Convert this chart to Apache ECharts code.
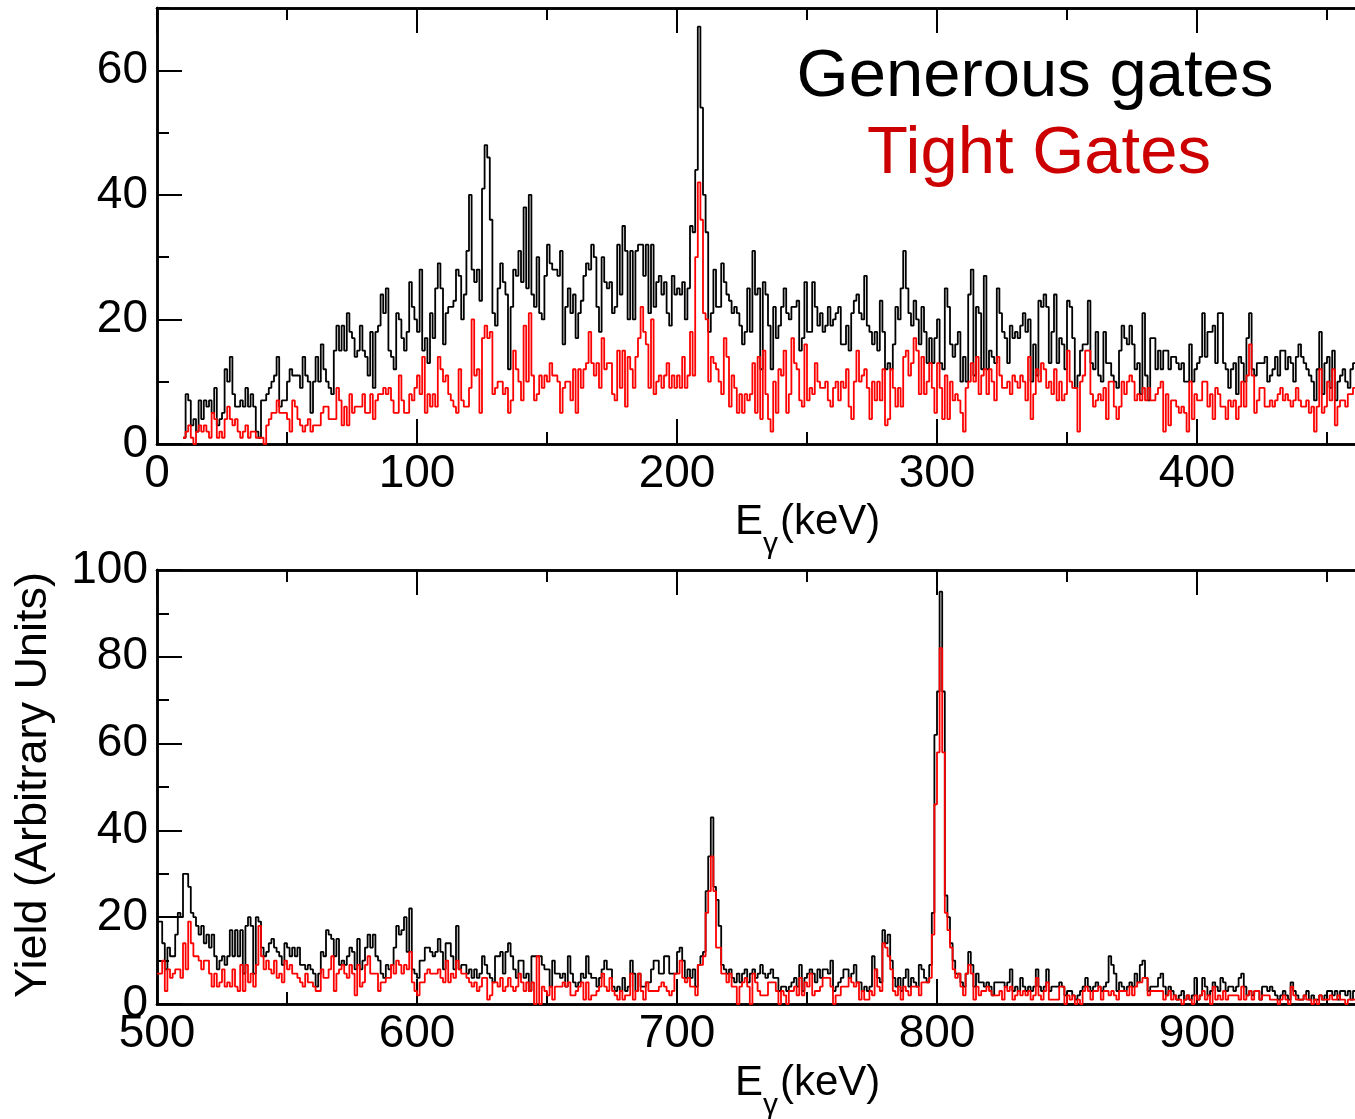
<!DOCTYPE html>
<html><head><meta charset="utf-8">
<script src="https://cdn.jsdelivr.net/npm/echarts@6/dist/echarts.min.js"></script>
<style>html,body{margin:0;padding:0;background:#fff}#c{width:1355px;height:1119px}</style>
</head><body><div id="c"></div>
<script>
// ---- data (1 keV bins, values = counts per bin) ----
const topStart = 10;     // keV of first bin, upper panel
const topGenerous = [
1,8,7,3,4,2,7,4,7,6,7,5,9,3,4,5,12,10,14,8,6,6,7,6,9,6,8,6,2,1,7,7,8,9,10,11,14,6,7,7,10,12,11,11,11,9,14,11,10,5,10,14,10,16,12,10,9,8,15,19,15,19,15,21,18,17,14,
15,19,15,14,11,18,9,18,19,24,21,25,15,14,12,21,20,17,15,18,26,22,20,18,28,15,17,13,21,17,25,29,25,16,21,22,22,23,28,27,20,24,31,40,28,26,28,23,41,48,46,36,21,19,25,29,26,24,12,22,28,27,31,26,38,25,40,24,22,30,21,20,27,32,29,28,
28,27,31,16,22,25,21,24,17,21,23,27,29,28,32,30,22,18,30,26,25,26,21,22,32,24,35,31,20,31,20,31,32,32,27,32,21,32,22,26,27,24,26,21,19,27,24,25,24,26,20,25,35,34,44,67,54,40,34,18,21,28,22,22,29,26,24,23,21,22,21,19,16,18,25,18,31,
24,25,12,26,24,19,12,22,17,19,22,25,21,20,22,22,23,15,17,26,18,18,26,22,19,21,18,19,22,19,20,21,22,16,16,19,15,21,23,24,21,20,27,19,18,16,18,15,23,18,12,13,12,16,22,20,25,31,25,21,19,23,20,16,22,18,13,17,13,17,20,13,12,25,22,16,
14,16,18,10,14,10,24,28,11,22,21,12,27,12,15,14,13,25,21,18,17,13,19,17,18,17,19,21,18,20,10,16,11,23,22,24,22,13,18,24,13,17,16,12,23,22,17,9,11,15,16,16,23,13,12,18,11,10,18,13,13,11,10,9,15,19,17,16,19,16,12,13,8,21,11,7,17,
17,12,15,12,15,15,12,14,14,13,12,13,10,10,16,10,12,13,14,21,14,18,18,19,13,21,21,13,12,9,12,13,8,14,13,10,17,21,12,11,13,13,13,14,10,11,12,14,11,15,15,12,14,13,10,14,16,14,13,12,11,10,7,12,18,8,13,14,9,15,7,10,11,12,10,9,12,13
];
const topTight = [
1,2,3,1,0,2,3,2,3,2,1,5,4,1,2,1,4,6,4,3,4,2,1,2,3,1,2,2,1,1,1,0,3,4,5,5,7,5,5,5,4,2,7,6,4,3,2,3,4,2,3,3,3,5,6,6,4,4,4,9,7,3,6,3,8,5,6,
6,6,8,5,5,8,4,7,8,8,9,8,9,7,5,5,11,7,5,5,8,7,9,11,8,14,5,8,6,8,6,14,12,10,11,8,7,6,5,12,7,6,6,9,20,11,12,5,17,19,17,18,8,9,10,10,8,9,5,7,15,12,10,7,19,10,21,11,7,8,11,9,11,10,13,11,
11,10,5,9,10,10,7,12,5,12,9,12,13,18,13,11,13,9,17,12,13,13,8,7,15,9,15,6,14,12,9,14,17,22,18,16,9,20,8,10,11,9,11,13,9,11,9,11,9,14,9,11,18,11,30,42,36,21,20,10,14,13,12,10,8,17,14,6,11,9,5,8,5,8,7,8,13,
5,14,4,15,8,4,2,10,5,12,11,15,5,8,17,13,12,7,6,16,7,9,8,13,10,9,9,10,7,6,9,10,7,10,9,12,6,4,10,15,10,11,12,9,4,10,7,10,7,12,3,4,12,9,6,9,6,14,15,11,13,17,15,8,14,8,10,13,9,5,13,9,4,11,4,10,
7,8,7,5,2,9,10,13,10,14,8,11,12,8,12,10,7,14,11,9,9,10,8,11,10,9,11,10,7,14,4,8,12,10,13,12,9,10,8,12,7,10,7,8,15,10,9,9,2,10,11,15,15,8,6,7,8,7,9,4,10,10,6,4,6,10,8,10,11,10,7,8,7,9,7,9,7,
7,8,9,10,2,8,3,7,7,6,5,6,5,2,10,4,8,7,7,10,10,6,8,4,9,8,6,6,4,7,6,7,4,6,10,6,11,16,11,5,7,9,9,6,6,7,6,7,8,9,7,8,7,6,7,9,7,6,6,7,5,6,2,6,12,5,6,10,7,12,3,6,7,7,6,8,8,9
];
const botStart = 500;    // keV of first bin, lower panel
const botGenerous = [
19,19,14,8,13,11,11,16,21,20,30,30,27,21,20,18,16,18,14,16,13,16,11,8,10,11,9,11,17,11,17,11,17,7,18,20,18,7,20,19,13,11,12,14,15,13,12,11,9,14,13,11,13,11,13,9,9,8,9,8,7,4,7,12,11,17,16,15,11,15,9,10,9,11,13,12,
8,15,8,10,13,16,13,16,11,10,7,6,9,8,9,13,18,16,17,20,12,22,8,7,6,10,10,13,13,12,11,12,15,12,8,14,14,11,8,18,8,9,9,7,8,6,8,6,7,11,9,7,6,5,11,11,12,7,12,14,11,8,6,10,10,6,7,3,11,11,11,11,9,8,8,4,10,
7,7,6,7,4,11,7,5,4,5,7,6,11,7,6,6,4,6,8,10,8,8,4,3,4,3,6,3,4,10,7,3,7,4,4,5,5,8,10,10,7,7,11,11,7,7,7,12,13,10,6,8,6,8,4,9,11,12,26,34,43,27,24,18,9,8,7,8,6,5,7,5,7,8,5,7,
8,6,7,9,7,6,7,8,6,6,3,4,4,3,4,5,6,4,9,3,6,7,8,7,5,8,6,8,8,7,10,3,4,5,6,8,8,6,7,9,5,5,3,4,3,4,11,8,6,5,17,14,16,10,6,4,6,3,6,8,4,6,5,4,9,8,6,5,9,21,62,72,95,72,25,20,14,10,
7,7,5,4,7,12,9,4,7,5,5,4,5,4,2,5,5,5,5,4,5,8,3,4,3,6,4,3,4,3,4,8,4,3,4,8,3,4,4,4,5,4,2,3,3,2,1,2,3,4,6,4,3,4,5,4,3,4,5,11,9,7,3,5,4,3,4,5,4,7,5,9,10,6,3,4,
4,4,6,7,4,2,4,3,2,1,2,3,1,2,1,2,6,1,2,6,4,2,3,5,4,3,6,5,3,4,4,3,4,6,7,4,2,3,2,3,3,1,4,4,3,4,3,2,1,2,3,2,1,5,3,2,1,1,2,3,1,2,1,1,2,1,2,3,3,2,3,1,3,3,2,3,1,3
];
const botTight = [
7,7,10,3,8,6,7,8,8,6,14,8,19,14,11,11,10,8,10,10,7,4,7,4,5,8,4,5,4,8,4,3,9,3,9,5,7,4,9,18,11,8,10,8,7,10,6,7,5,10,8,9,7,7,6,5,4,7,5,5,4,3,3,8,6,6,8,11,3,7,8,9,7,6,9,7,
2,9,4,5,9,11,7,7,7,3,5,5,6,6,9,7,10,9,7,9,8,12,5,3,2,5,5,7,8,7,7,7,8,6,5,10,5,7,6,10,8,7,7,6,5,4,5,3,4,6,6,1,2,5,5,4,6,3,4,6,4,3,4,7,5,3,5,3,5,0,11,0,4,3,2,4,1,
4,4,4,5,4,5,2,2,3,4,5,1,5,1,2,2,3,4,7,4,3,6,3,2,1,3,1,2,2,7,1,3,7,3,1,5,3,3,3,3,4,5,4,3,2,3,7,7,10,6,5,6,4,4,2,9,9,11,21,26,34,26,13,13,7,7,5,7,4,4,0,4,5,6,4,0,
7,5,3,2,2,2,5,5,5,3,0,3,2,0,3,3,4,2,6,2,5,4,7,2,3,3,4,6,6,6,4,0,2,2,4,4,4,6,5,4,5,1,3,1,1,3,2,8,4,3,14,13,11,8,3,2,4,1,4,3,2,4,4,4,2,5,5,5,6,16,46,58,82,58,21,17,13,8,
6,7,4,2,7,9,7,1,4,2,3,3,4,3,2,2,2,3,1,4,3,4,1,2,3,2,3,2,3,1,2,6,2,1,3,5,1,1,1,1,4,4,0,2,1,2,0,1,0,3,4,3,1,3,3,4,1,3,3,2,3,2,1,3,3,3,2,4,2,4,5,5,6,6,2,3,
3,3,3,3,1,2,3,1,2,1,1,0,1,2,1,0,2,1,2,3,1,2,0,4,1,2,1,3,1,2,2,2,2,1,4,1,2,3,1,3,3,1,2,2,2,1,1,1,0,1,2,1,0,4,2,1,1,1,2,1,1,0,1,0,2,1,1,1,2,1,1,2,1,1,0,1,1,1
];
// axis ranges / ticks
const topX = {min: 0, max: 500, major: 100, minor: 50};
const topY = {min: 0, max: 70, major: 20, minor: 10};
const botX = {min: 500, max: 1000, major: 100, minor: 50};
const botY = {min: 0, max: 100, major: 20, minor: 10};
const legendLabels = ['Generous gates', 'Tight Gates'];
const axisTitleY = 'Yield (Arbitrary Units)';

// ---- chart ----
const FONT = '"Liberation Sans", Arial, Helvetica, sans-serif';
const LBL = 46;
const TITLE = 42;
function hist(start, vals) {
  const d = vals.map((v, i) => [start + i, v]);
  d.push([start + vals.length, vals[vals.length - 1]]);
  return d;
}
function xAxis(grid, r, interval, pos, tickLen, labels) {
  return {
    type: 'value', gridIndex: grid, min: r.min, max: r.max, interval: interval, position: pos,
    axisLine: {show: true, onZero: false, lineStyle: {color: '#000', width: 2.5}},
    axisTick: {show: true, inside: true, length: tickLen, lineStyle: {color: '#000', width: 2}},
    axisLabel: {show: labels, color: '#000', fontSize: LBL, fontFamily: FONT, margin: 7,
                showMaxLabel: false, hideOverlap: false},
    splitLine: {show: false}, minorTick: {show: false}
  };
}
function yAxis(grid, r, interval, tickLen, labels) {
  return {
    type: 'value', gridIndex: grid, min: r.min, max: r.max, interval: interval, position: 'left',
    axisLine: {show: true, onZero: false, lineStyle: {color: '#000', width: 2.5}},
    axisTick: {show: true, inside: true, length: tickLen, lineStyle: {color: '#000', width: 2}},
    axisLabel: {show: labels, color: '#000', fontSize: LBL, fontFamily: FONT, margin: 9,
                showMaxLabel: r.max % interval === 0, hideOverlap: false},
    splitLine: {show: false}, minorTick: {show: false}
  };
}
const gridW = 1300; // 500 keV at 2.6 px/keV, extends past the right edge
const chart = echarts.init(document.getElementById('c'), null, {renderer: 'canvas'});
const option = {
  animation: false,
  backgroundColor: '#fff',
  grid: [
    {left: 157, top: 8, width: gridW, height: 436, containLabel: false, outerBoundsMode: 'none'},
    {left: 157, top: 570, width: gridW, height: 434, containLabel: false, outerBoundsMode: 'none'}
  ],
  xAxis: [
    xAxis(0, topX, topX.major, 'bottom', 25, true),
    xAxis(0, topX, topX.minor, 'bottom', 12, false),
    xAxis(0, topX, topX.major, 'top', 25, false),
    xAxis(0, topX, topX.minor, 'top', 12, false),
    xAxis(1, botX, botX.major, 'bottom', 25, true),
    xAxis(1, botX, botX.minor, 'bottom', 12, false),
    xAxis(1, botX, botX.major, 'top', 25, false),
    xAxis(1, botX, botX.minor, 'top', 12, false)
  ],
  yAxis: [
    yAxis(0, topY, topY.major, 25, true),
    yAxis(0, topY, topY.minor, 12, false),
    yAxis(1, botY, botY.major, 25, true),
    yAxis(1, botY, botY.minor, 12, false)
  ],
  series: [
    {name: legendLabels[0], type: 'line', step: 'end', xAxisIndex: 0, yAxisIndex: 0, data: hist(topStart, topGenerous),
     showSymbol: false, symbol: 'none', lineStyle: {color: '#000', width: 1.8}, z: 2},
    {name: legendLabels[1], type: 'line', step: 'end', xAxisIndex: 0, yAxisIndex: 0, data: hist(topStart, topTight),
     showSymbol: false, symbol: 'none', lineStyle: {color: '#ff0000', width: 1.8}, z: 3},
    {name: legendLabels[0], type: 'line', step: 'end', xAxisIndex: 4, yAxisIndex: 2, data: hist(botStart, botGenerous),
     showSymbol: false, symbol: 'none', lineStyle: {color: '#000', width: 1.8}, z: 2},
    {name: legendLabels[1], type: 'line', step: 'end', xAxisIndex: 4, yAxisIndex: 2, data: hist(botStart, botTight),
     showSymbol: false, symbol: 'none', lineStyle: {color: '#ff0000', width: 1.8}, z: 3}
  ],
  graphic: [
    {type: 'text', x: 1035, y: 78, z: 10, style: {text: legendLabels[0], font: '67px ' + FONT, fill: '#000',
      textAlign: 'center', textVerticalAlign: 'middle', align: 'center', verticalAlign: 'middle'}},
    {type: 'text', x: 1039, y: 155, z: 10, style: {text: legendLabels[1], font: '67px ' + FONT, fill: '#cc0000',
      textAlign: 'center', textVerticalAlign: 'middle', align: 'center', verticalAlign: 'middle'}},
    // top x-axis title E_gamma (keV)
    {type: 'text', x: 735, y: 522, style: {text: 'E', font: TITLE + 'px ' + FONT, fill: '#000', textVerticalAlign: 'middle', verticalAlign: 'middle'}},
    {type: 'text', x: 763, y: 545, style: {text: 'γ', font: '30px ' + FONT, fill: '#000', textVerticalAlign: 'middle', verticalAlign: 'middle'}},
    {type: 'text', x: 780, y: 522, style: {text: '(keV)', font: TITLE + 'px ' + FONT, fill: '#000', textVerticalAlign: 'middle', verticalAlign: 'middle'}},
    // bottom x-axis title
    {type: 'text', x: 735, y: 1083, style: {text: 'E', font: TITLE + 'px ' + FONT, fill: '#000', textVerticalAlign: 'middle', verticalAlign: 'middle'}},
    {type: 'text', x: 763, y: 1106, style: {text: 'γ', font: '30px ' + FONT, fill: '#000', textVerticalAlign: 'middle', verticalAlign: 'middle'}},
    {type: 'text', x: 780, y: 1083, style: {text: '(keV)', font: TITLE + 'px ' + FONT, fill: '#000', textVerticalAlign: 'middle', verticalAlign: 'middle'}},
    // y-axis title
    {type: 'text', x: 34, y: 785, rotation: Math.PI / 2, style: {text: axisTitleY, font: '45px ' + FONT, fill: '#000',
      textAlign: 'center', textVerticalAlign: 'middle', align: 'center', verticalAlign: 'middle'}}
  ]
};
chart.setOption(option);
</script>
</body></html>
